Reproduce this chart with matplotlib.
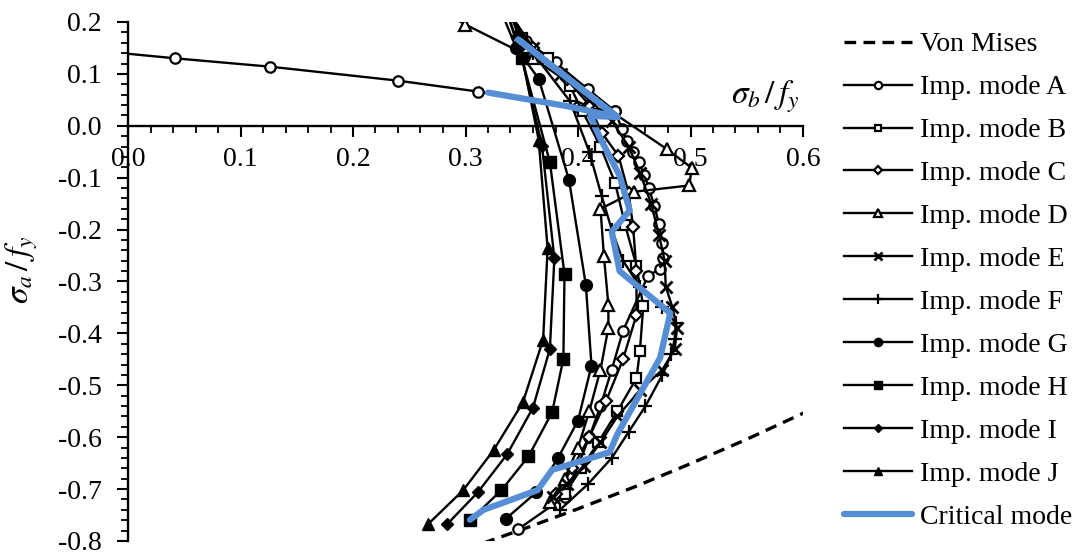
import matplotlib
matplotlib.use("Agg")
import matplotlib.pyplot as plt
from matplotlib.ticker import MultipleLocator, FormatStrFormatter

plt.rcParams['font.family'] = ['Liberation Serif', 'DejaVu Serif']
plt.rcParams['mathtext.fontset'] = 'stix'
plt.rcParams['axes.unicode_minus'] = False

# von Mises envelope
vm_x = [0.30, 0.35, 0.40, 0.45, 0.50, 0.55, 0.60, 0.62]
vm_y = [-0.816, -0.778, -0.738, -0.696, -0.651, -0.604, -0.554, -0.534]

# mode A: left branch + main curve
a_branch_x = [-0.02, 0.042, 0.126, 0.240, 0.311, 0.400, 0.433]
a_branch_y = [0.143, 0.130, 0.114, 0.087, 0.066, 0.036, 0.028]
a_x = [0.335, 0.354, 0.380, 0.409, 0.433, 0.439, 0.444, 0.449, 0.454, 0.459, 0.463, 0.468,
       0.472, 0.475, 0.476, 0.473, 0.462, 0.440, 0.430, 0.420, 0.410, 0.400, 0.388, 0.347]
a_y = [0.23, 0.164, 0.122, 0.070, 0.028, -0.006, -0.030, -0.050, -0.070, -0.095, -0.120, -0.155,
       -0.190, -0.225, -0.255, -0.275, -0.290, -0.395, -0.47, -0.54, -0.60, -0.655, -0.715, -0.777]

b_x = [0.335, 0.350, 0.373, 0.393, 0.404, 0.420, 0.433, 0.442, 0.452, 0.458, 0.455, 0.452, 0.435, 0.418, 0.403, 0.388]
b_y = [0.23, 0.17, 0.131, 0.076, 0.028, -0.04, -0.11, -0.192, -0.27, -0.348, -0.434, -0.486, -0.55, -0.61, -0.66, -0.71]

c_x = [0.335, 0.360, 0.390, 0.410, 0.421, 0.436, 0.445, 0.449, 0.452, 0.452, 0.440, 0.425, 0.410, 0.395, 0.380]
c_y = [0.23, 0.15, 0.09, 0.04, -0.013, -0.058, -0.13, -0.195, -0.28, -0.364, -0.45, -0.53, -0.60, -0.66, -0.71]

d_x = [0.280, 0.300, 0.360, 0.479, 0.501, 0.499, 0.450, 0.420, 0.423, 0.427, 0.427, 0.420, 0.410, 0.400, 0.388, 0.375]
d_y = [0.22, 0.195, 0.13, -0.045, -0.081, -0.115, -0.127, -0.160, -0.25, -0.345, -0.389, -0.47, -0.55, -0.62, -0.68, -0.725]

e_x = [0.335, 0.360, 0.385, 0.410, 0.430, 0.445, 0.455, 0.465, 0.472, 0.477, 0.478, 0.484, 0.488, 0.486,
       0.475, 0.455, 0.435, 0.420, 0.405, 0.390, 0.378]
e_y = [0.23, 0.15, 0.10, 0.05, 0.01, -0.04, -0.09, -0.15, -0.21, -0.26, -0.31, -0.35, -0.39, -0.43,
       -0.47, -0.51, -0.56, -0.61, -0.655, -0.69, -0.715]

f_x = [0.335, 0.360, 0.393, 0.410, 0.421, 0.430, 0.440, 0.455, 0.475, 0.487, 0.486, 0.483, 0.475, 0.460,
       0.445, 0.430, 0.409, 0.384]
f_y = [0.23, 0.14, 0.047, -0.05, -0.135, -0.20, -0.26, -0.31, -0.35, -0.38, -0.41, -0.44, -0.48, -0.54,
       -0.59, -0.64, -0.69, -0.74]

g_x = [0.330, 0.345, 0.365, 0.392, 0.407, 0.412, 0.400, 0.382, 0.363, 0.336]
g_y = [0.23, 0.15, 0.091, -0.104, -0.307, -0.462, -0.568, -0.641, -0.706, -0.757]

h_x = [0.335, 0.350, 0.375, 0.388, 0.387, 0.377, 0.356, 0.332, 0.304]
h_y = [0.23, 0.131, -0.070, -0.286, -0.449, -0.552, -0.637, -0.702, -0.760]

i_x = [0.335, 0.348, 0.368, 0.379, 0.375, 0.360, 0.337, 0.311, 0.284]
i_y = [0.23, 0.15, -0.039, -0.255, -0.430, -0.543, -0.633, -0.706, -0.767]

j_x = [0.338, 0.346, 0.365, 0.373, 0.369, 0.351, 0.325, 0.298, 0.267]
j_y = [0.23, 0.18, -0.027, -0.236, -0.412, -0.533, -0.625, -0.702, -0.767]

crit_x = [0.320, 0.390, 0.435, 0.347, 0.435, 0.411, 0.420, 0.437, 0.446, 0.430, 0.437, 0.482,
          0.473, 0.435, 0.428, 0.377, 0.364, 0.316, 0.304]
crit_y = [0.064, 0.038, 0.017, 0.166, 0.017, 0.019, -0.025, -0.096, -0.163, -0.204, -0.280, -0.361,
          -0.447, -0.594, -0.629, -0.663, -0.702, -0.740, -0.759]

fig = plt.figure(figsize=(10.78, 5.56), dpi=100)
ax = fig.add_axes([128/1078, 15/556, 675/1078, 519/556])

lw = 1.7
ax.plot(vm_x, vm_y, color='black', ls=(0, (3.5, 2.2)), lw=2.4, label='Von Mises')
ax.plot(a_branch_x, a_branch_y, color='black', lw=lw, marker='o', ms=7.5, mfc='white', mew=1.6)
ax.plot(a_x, a_y, color='black', lw=lw, marker='o', ms=7.5, mfc='white', mew=1.6, label='Imp. mode A')
ax.plot(b_x, b_y, color='black', lw=lw, marker='s', ms=7, mfc='white', mew=1.6, label='Imp. mode B')
ax.plot(c_x, c_y, color='black', lw=lw, marker='D', ms=6.5, mfc='white', mew=1.6, label='Imp. mode C')
ax.plot(d_x, d_y, color='black', lw=lw, marker='^', ms=8.5, mfc='white', mew=1.6, label='Imp. mode D')
ax.plot(e_x, e_y, color='black', lw=lw, marker='x', ms=8, mew=2, label='Imp. mode E')
ax.plot(f_x, f_y, color='black', lw=lw, marker='+', ms=10, mew=1.6, label='Imp. mode F')
ax.plot(g_x, g_y, color='black', lw=lw, marker='o', ms=8.5, label='Imp. mode G')
ax.plot(h_x, h_y, color='black', lw=lw, marker='s', ms=8.5, label='Imp. mode H')
ax.plot(i_x, i_y, color='black', lw=lw, marker='D', ms=6.5, label='Imp. mode I')
ax.plot(j_x, j_y, color='black', lw=lw, marker='^', ms=9, label='Imp. mode J')
ax.plot(crit_x, crit_y, color='#558ED5', lw=4.5, solid_capstyle='round', label='Critical mode')

ax.set_xlim(0, 0.6)
ax.set_ylim(-0.8, 0.2)
ax.spines['top'].set_visible(False)
ax.spines['right'].set_visible(False)
ax.spines['bottom'].set_position(('data', 0))
ax.spines['bottom'].set_linewidth(1.7)
ax.spines['left'].set_linewidth(1.7)

ax.xaxis.set_major_locator(MultipleLocator(0.1))
ax.xaxis.set_minor_locator(MultipleLocator(0.02))
ax.yaxis.set_major_locator(MultipleLocator(0.1))
ax.yaxis.set_minor_locator(MultipleLocator(0.02))
ax.xaxis.set_major_formatter(FormatStrFormatter('%.1f'))
ax.yaxis.set_major_formatter(FormatStrFormatter('%.1f'))
ax.tick_params(which='major', direction='out', length=8, width=1.5, labelsize=20)
ax.tick_params(which='minor', direction='out', length=5, width=1.3)
ax.tick_params(axis='x', which='major', pad=7)
ax.tick_params(axis='y', which='major', pad=11)

ax.text(0.566, 0.057, r'$\sigma_b\,/\,f_y$', fontsize=24, ha='center', va='center')
fig.text(22/1078, 1 - 270/556, r'$\sigma_a\,/\,f_y$', fontsize=24, rotation=90,
         ha='center', va='center')

handles, labels = ax.get_legend_handles_labels()
fig.legend(handles, labels, loc='upper left', bbox_to_anchor=(830/1078, 1 - 18/556),
           frameon=False, fontsize=20, handlelength=2.45, handletextpad=0.3,
           labelspacing=0.63, borderpad=0, markerscale=0.7)

fig.savefig('out.png', dpi=100)
